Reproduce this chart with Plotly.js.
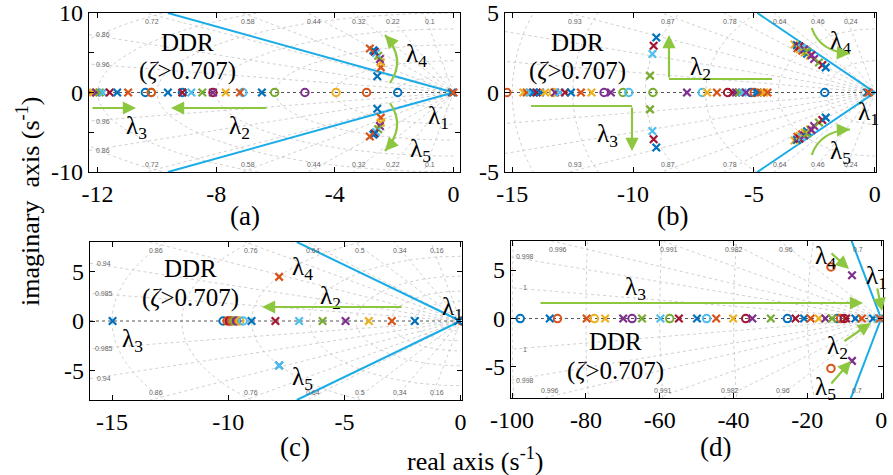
<!DOCTYPE html>
<html><head><meta charset="utf-8">
<script src="https://cdn.plot.ly/plotly-3.0.1.min.js"></script>
<style>html,body{margin:0;padding:0;background:#fff}</style>
</head><body><div id="chart" style="width:893px;height:475px"></div>
<script>
// ---------- DATA ----------
const seriesColors = ['#0072BD','#D95319','#EDB120','#7E2F8E','#77AC30','#4DBEEE','#A2142F'];

// (a)
const aPoleRe = [-12.25,-12.15,-12.05,-11.93,-11.82,-11.59,-11.34,-10.97,
  -9.63,-9.14,-8.84,-8.47,-8.11,-7.68,-7.2,-6.46, -0.05,0.0,
  -2.57,-2.45,-2.45,-2.48,-2.54,-2.61,-2.66,-2.70,-2.82,
  -2.57,-2.45,-2.45,-2.48,-2.54,-2.61,-2.66,-2.70,-2.82];
const aPoleIm = [0,0,0,0,0,0,0,0, 0,0,0,0,0,0,0,0, 0,0,
  2.04,3.16,3.79,4.21,4.63,4.96,5.15,5.30,5.54,
  -2.04,-3.16,-3.79,-4.21,-4.63,-4.96,-5.15,-5.30,-5.54];
const aPoleSeries = [2,3,4,5,6,7,1,2, 1,7,6,5,4,3,2,1, 1,2,
  1,2,3,4,5,6,7,1,2, 1,2,3,4,5,6,7,1,2];
const aZeroRe = [-10.39,-10.19,-10.19,-9.14,-8.11,-7.10,-6.03,-5.01,-3.96,-2.93,-1.88];
const aZeroIm = [0,0,0,0,0,0,0,0,0,0,0];
const aZeroSeries = [1,5,2,1,7,6,5,4,3,2,1];

// (b)
const bPoleRe = [-14.54,-14.40,-14.26,-14.12,-13.99,-13.85,-13.64,-13.23,-13.03,-12.82,-12.57,-12.16,-11.72,-10.92,
  -7.77,-6.94,-6.53,-5.88,-5.74,-5.61,-5.47,-5.33,-4.85,-4.71,-4.58,-4.44, -0.32,-0.25,
  -9.30,-9.20,-9.15,-9.04, -9.30,-9.20,-9.15,-9.04,
  -3.32,-3.20,-3.22,-3.10,-3.12,-3.00,-3.02,-2.90,-2.92,-2.80,-2.80,-2.68,-2.62,-2.51,-2.31,-2.17,-2.03,
  -3.32,-3.20,-3.22,-3.10,-3.12,-3.00,-3.02,-2.90,-2.92,-2.80,-2.80,-2.68,-2.62,-2.51,-2.31,-2.17,-2.03];
const bPoleIm = [0,0,0,0,0,0,0,0,0,0,0,0,0,0, 0,0,0,0,0,0,0,0,0,0,0,0, 0,0,
  1.06,2.42,2.94,3.46, -1.06,-2.42,-2.94,-3.46,
  3.02,2.78,2.98,2.72,2.90,2.62,2.80,2.52,2.70,2.44,2.58,2.32,2.35,2.11,1.89,1.73,1.58,
  -3.02,-2.78,-2.98,-2.72,-2.90,-2.62,-2.80,-2.52,-2.70,-2.44,-2.58,-2.32,-2.35,-2.11,-1.89,-1.73,-1.58];
const bPoleSeries = [3,2,6,1,7,1,3,4,6,7,1,2,3,4, 4,3,2,7,4,5,6,4,1,2,3,2, 1,2,
  5,6,7,1, 5,6,7,1,
  3,2,1,3,7,2,6,3,4,1,5,3,4,4,5,7,1,
  3,2,1,3,7,2,6,3,4,1,5,3,4,4,5,7,1];
const bZeroRe = [-15.22,-13.30,-11.20,-10.42,-10.18,-9.18,-7.14,-6.09,-5.12,-4.99,-2.07];
const bZeroIm = [0,0,0,0,0,0,0,0,0,0,0];
const bZeroSeries = [2,3,4,5,6,5,6,7,1,2,1];

// (c)
const cPoleRe = [-14.98,-9.0,-7.97,-6.95,-5.94,-4.95,-3.95,-2.96,-1.97,-0.1, -7.81,-7.81,-7.81];
const cPoleIm = [0,0,0,0,0,0,0,0,0,0, 4.43,-4.47,-4.47];
const cPoleSeries = [1,1,7,6,5,4,3,2,1,1, 2,1,6];
const cZeroRe = [-10.22,-10.05,-9.95,-9.86,-9.75,-9.64,-9.5,-9.36,0.04];
const cZeroIm = [0,0,0,0,0,0,0,0,0];
const cZeroSeries = [1,2,7,2,5,4,3,6,2];

// (d)
const dPoleRe = [-89.8,-79.8,-74.8,-69.9,-64.8,-59.8,-54.8,-49.9,-44.7,-40.1,-34.9,-29.9,-23.2,-20.9,-19.1,-16.9,-15.1,-13.3,-9.5,-7.0,-5.2,-2.2,-0.8,-0.3, -7.9,-7.9];
const dPoleIm = [0,0,0,0,0,0,0,0,0,0,0,0,0,0,0,0,0,0,0,0,0,0,0,0, 4.46,-4.37];
const dPoleSeries = [1,2,3,4,5,6,7,1,2,3,4,5,7,1,2,3,4,5,7,1,2,1,6,2, 4,4];
const dZeroRe = [-97.8,-87.7,-77.7,-67.5,-57.3,-47.3,-36.7,-25.4,-11.9,-11.0,-10.0, -13.6,-13.6];
const dZeroIm = [0,0,0,0,0,0,0,0,0,0,0, 5.32,-5.15];
const dZeroSeries = [1,2,3,4,5,6,7,1,1,2,7,2,2];

// damping-ratio / natural-frequency grid values
const aZeta = [0.1,0.22,0.32,0.44,0.58,0.72,0.86,0.96];
const aZetaText = ['0.1','0.22','0.32','0.44','0.58','0.72','0.86','0.96'];
const aWn = [2,4,6,8,10,12,14];
const bZeta = [0.24,0.46,0.64,0.78,0.87,0.93,0.97,0.992];
const bZetaText = ['0.24','0.46','0.64','0.78','0.87','0.93','',''];
const bWn = [2,4,7,9.5,12.5,15];
const cZeta = [0.16,0.34,0.5,0.64,0.76,0.86,0.94,0.985];
const cZetaText = ['0.16','0.34','0.5','0.64','0.76','0.86','0.94','0.985'];
const cWn = [1,2,3,4.5,6.5,9,12,15];
const dZeta = [0.7,0.96,0.982,0.991,0.996,0.998,0.9995];
const dZetaText = ['0.7','0.96','0.982','0.991','0.996','0.998','1'];
const dWn = [20,40,60,80,100];

// DDR boundary (zeta = 0.707) end points
const aDdrRe = [-9.63,0,-9.63], aDdrIm = [10,0,-10];
const bDdrRe = [-4.86,0,-4.86], bDdrIm = [5,0,-5];
const cDdrRe = [-7.05,0,-7.05], cDdrIm = [7.93,0,-7.93];
const dDdrRe = [-8.4,0,-8.4], dDdrIm = [8.4,0,-8.4];

// tick labels
const aXTicks = [-12,-8,-4,0], aXText = ['-12','-8','-4','0'];
const aYTicks = [-10,-5,0,5,10], aYText = ['-10','','0','','10'];
const bXTicks = [-15,-10,-5,0], bXText = ['-15','-10','-5','0'];
const bYTicks = [-5,0,5], bYText = ['-5','0','5'];
const cXTicks = [-15,-10,-5,0], cXText = ['-15','-10','-5','0'];
const cYTicks = [-5,0,5], cYText = ['-5','0','5'];
const dXTicks = [-100,-80,-60,-40,-20,0], dXText = ['-100','-80','-60','-40','-20','0'];
const dYTicks = [-5,0,5], dYText = ['-5','0','5'];

// ---------- LAYOUT HELPERS ----------
const W = 893, H = 475;
const PX = v => v / W, PY = v => 1 - v / H;
const FONT = '"Liberation Serif", "Times New Roman", serif';
const GREEN = '#8dc63f', BLUE = '#1aace6';

const panels = [
  {s:'',  xr:[-12.29,0.22], yr:[-10,10],   dom:[[89,460],[13,172]],  pr:aPoleRe,pi:aPoleIm,ps:aPoleSeries, zr:aZeroRe,zi:aZeroIm,zs:aZeroSeries, zeta:aZeta,zt:aZetaText,wn:aWn, ddr:[aDdrRe,aDdrIm], xt:aXTicks, xtt:aXText, yt:aYTicks, ytt:aYText},
  {s:'2', xr:[-15.3,0.05],  yr:[-5,5],     dom:[[505,876],[13,172]], pr:bPoleRe,pi:bPoleIm,ps:bPoleSeries, zr:bZeroRe,zi:bZeroIm,zs:bZeroSeries, zeta:bZeta,zt:bZetaText,wn:bWn, ddr:[bDdrRe,bDdrIm], xt:bXTicks, xtt:bXText, yt:bYTicks, ytt:bYText},
  {s:'3', xr:[-15.95,0.06], yr:[-7.93,7.93], dom:[[90,462],[242,400]], pr:cPoleRe,pi:cPoleIm,ps:cPoleSeries, zr:cZeroRe,zi:cZeroIm,zs:cZeroSeries, zeta:cZeta,zt:cZetaText,wn:cWn, ddr:[cDdrRe,cDdrIm], xt:cXTicks, xtt:cXText, yt:cYTicks, ytt:cYText},
  {s:'4', xr:[-100.3,0.5],  yr:[-8.2,8.0], dom:[[511,883],[241,398]], pr:dPoleRe,pi:dPoleIm,ps:dPoleSeries, zr:dZeroRe,zi:dZeroIm,zs:dZeroSeries, zeta:dZeta,zt:dZetaText,wn:dWn, ddr:[dDdrRe,dDdrIm], xt:dXTicks, xtt:dXText, yt:dYTicks, ytt:dYText}
];

const traces = [], annotations = [], shapes = [];
const layout = {
  width: W, height: H, margin:{l:0,r:0,t:0,b:0}, showlegend:false,
  paper_bgcolor:'#fff', plot_bgcolor:'#fff',
  font:{family:FONT, size:20, color:'#000'}
};

panels.forEach(p => {
  const xa = 'x'+p.s, ya = 'y'+p.s;
  const gx = [], gy = [];
  const R = 2000;
  p.zeta.forEach(z => {
    const s = Math.sqrt(1-z*z);
    gx.push(0,-z*R,null,0,-z*R,null);
    gy.push(0, s*R,null,0,-s*R,null);
  });
  p.wn.forEach(w => {
    for (let th = 90; th <= 270; th += 2) {
      const t = th*Math.PI/180;
      gx.push(w*Math.cos(t)); gy.push(w*Math.sin(t));
    }
    gx.push(null); gy.push(null);
  });
  traces.push({x:gx, y:gy, xaxis:xa, yaxis:ya, mode:'lines', hoverinfo:'skip',
    line:{color:'#c4c4c4', width:0.8, dash:'dot'}});
  traces.push({x:[p.xr[0],p.xr[1]], y:[0,0], xaxis:xa, yaxis:ya, mode:'lines', hoverinfo:'skip',
    line:{color:'#555', width:1, dash:'dot'}});
  traces.push({x:p.ddr[0], y:p.ddr[1], xaxis:xa, yaxis:ya, mode:'lines', hoverinfo:'skip',
    line:{color:BLUE, width:2}});
  const zc = p.zs.map(k => seriesColors[k-1]);
  traces.push({x:p.zr, y:p.zi, xaxis:xa, yaxis:ya, mode:'markers',
    marker:{symbol:'circle-open', size:7.5, color:zc, line:{width:2, color:zc}}});
  const pc = p.ps.map(k => seriesColors[k-1]);
  traces.push({x:p.pr, y:p.pi, xaxis:xa, yaxis:ya, mode:'markers',
    marker:{symbol:'x-thin-open', size:7.5, color:pc, line:{width:2.2, color:pc}}});

  p.zeta.forEach((z,i) => {
    const t = p.zt[i]; if (!t) return;
    const s = Math.sqrt(1-z*z);
    const xt = -p.yr[1]*z/s;
    const base = {xref:xa, yref:ya, text:t, showarrow:false, font:{size:7, color:'#666', family:'"Liberation Sans", Arial, sans-serif'}};
    if (xt >= p.xr[0]) {
      annotations.push(Object.assign({}, base, {x:xt, y:p.yr[1], xshift:6, yshift:-8}));
      annotations.push(Object.assign({}, base, {x:p.yr[0]*z/s, y:p.yr[0], xshift:6, yshift:8}));
    } else {
      const yl = -p.xr[0]*s/z;
      annotations.push(Object.assign({}, base, {x:p.xr[0], y:yl, xshift:14}));
      annotations.push(Object.assign({}, base, {x:p.xr[0], y:-yl, xshift:14}));
    }
  });

  const axBase = {showline:true, linecolor:'#000', linewidth:1.2, mirror:'ticks', ticks:'inside',
    ticklen:5, tickcolor:'#000', showgrid:false, zeroline:false, fixedrange:true,
    tickfont:{family:FONT, size:24, color:'#000'}};
  layout['xaxis'+p.s] = Object.assign({}, axBase, {anchor:ya, range:p.xr,
    domain:[PX(p.dom[0][0]), PX(p.dom[0][1])], tickvals:p.xt, ticktext:p.xtt});
  layout['yaxis'+p.s] = Object.assign({}, axBase, {anchor:xa, range:p.yr,
    domain:[PY(p.dom[1][1]), PY(p.dom[1][0])], tickvals:p.yt, ticktext:p.ytt});
});

// text labels
const lam = n => 'λ<sub>'+n+'</sub>';
const lamLabels = [
  [416,55,4],[438,117,1],[136,127,3],[239,127,2],[420,150,5],
  [840,42,4],[700,68,2],[607,135,3],[868,113,1],[840,152,5],
  [302,268,4],[330,297,2],[452,308,1],[132,340,3],[302,378,5],
  [825,257,4],[876,277,1],[635,288,3],[837,347,2],[825,388,5]
];
lamLabels.forEach(t => annotations.push({xref:'paper', yref:'paper', x:PX(t[0]), y:PY(t[1]),
  text:lam(t[2]), showarrow:false, xanchor:'center', yanchor:'middle', font:{family:FONT, size:25, color:'#000'}}));
const ddrLabels = [
  [187,42,'DDR'],[187,71,'(<i>ζ</i>>0.707)'],
  [577,42,'DDR'],[577,71,'(<i>ζ</i>>0.707)'],
  [190,268,'DDR'],[190,298,'(<i>ζ</i>>0.707)'],
  [615,341,'DDR'],[615,371,'(<i>ζ</i>>0.707)']
];
ddrLabels.forEach(t => annotations.push({xref:'paper', yref:'paper', x:PX(t[0]), y:PY(t[1]),
  text:t[2], showarrow:false, xanchor:'center', yanchor:'middle', font:{family:FONT, size:25, color:'#000'}}));
const panelLabels = [[245,216,'(a)'],[672,216,'(b)'],[295,447,'(c)'],[715,447,'(d)']];
panelLabels.forEach(t => annotations.push({xref:'paper', yref:'paper', x:PX(t[0]), y:PY(t[1]),
  text:t[2], showarrow:false, xanchor:'center', yanchor:'middle', font:{family:FONT, size:27, color:'#000'}}));
annotations.push({xref:'paper', yref:'paper', x:PX(475), y:PY(459), text:'real axis (s<sup>-1</sup>)',
  showarrow:false, xanchor:'center', yanchor:'middle', font:{family:FONT, size:26, color:'#000'}});
annotations.push({xref:'paper', yref:'paper', x:PX(29), y:PY(202), text:'imaginary  axis (s<sup>-1</sup>)',
  textangle:-90, showarrow:false, xanchor:'center', yanchor:'middle', font:{family:FONT, size:26, color:'#000'}});

// green arrows: tail (x,y) -> head (x,y) in pixels
const arrow = (tx,ty,hx,hy) => annotations.push({xref:'paper', yref:'paper', x:PX(hx), y:PY(hy),
  ax:tx-hx, ay:ty-hy, text:'', showarrow:true, arrowhead:2, arrowsize:1.2, arrowwidth:2.2,
  arrowcolor:GREEN, standoff:0, startstandoff:0});
[[91,108,136,108],[268,108,171,108],[403,307,262,307],[539,303,863,303],
 [830,252,849,269],[877,287,882,311],[843,342,871,323],[830,385,851,361],
 [669,79,669,35],[632,106,632,151]].forEach(a => arrow(...a));
const seg = (pts) => {
  const d = 'M ' + pts.map(q => PX(q[0]).toFixed(5)+','+PY(q[1]).toFixed(5)).join(' L ');
  shapes.push({type:'path', xref:'paper', yref:'paper', path:d, line:{color:GREEN, width:2.2}});
};
seg([[772,79],[669,79]]);
seg([[531,106],[632,106]]);
const curve = (s, c, e) => {
  const d = 'M '+PX(s[0])+','+PY(s[1])+' Q '+PX(c[0])+','+PY(c[1])+' '+PX(e[0])+','+PY(e[1]);
  shapes.push({type:'path', xref:'paper', yref:'paper', path:d, line:{color:GREEN, width:2.2}});
  const dx = e[0]-c[0], dy = e[1]-c[1], L = Math.hypot(dx,dy);
  arrow(e[0]-10*dx/L, e[1]-10*dy/L, e[0], e[1]);
};
curve([390,83],[406.5,59],[385,35]);
curve([390,103],[406.5,127],[385,151]);
curve([811.7,28],[820,52],[850,53.5]);
curve([811.7,155],[820,131],[850,129.5]);

layout.annotations = annotations;
layout.shapes = shapes;
Plotly.newPlot('chart', traces, layout, {displayModeBar:false, staticPlot:true});
</script></body></html>
